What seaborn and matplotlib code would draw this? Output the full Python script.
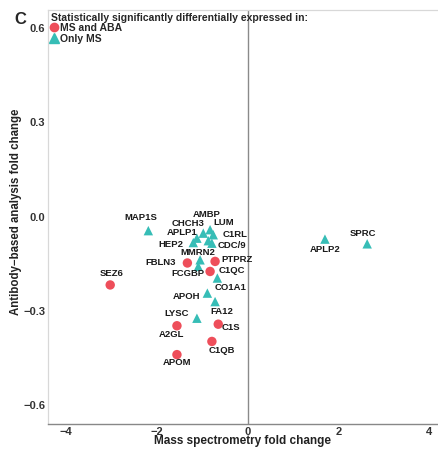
import matplotlib
matplotlib.use("Agg")
import matplotlib.pyplot as plt
import seaborn as sns
import pandas as pd
from matplotlib.lines import Line2D

proteins = ["MAP1S", "AMBP", "CHCH3", "LUM", "APLP1", "C1RL", "HEP2", "CDC/9",
            "MMRN2", "FBLN3", "PTPRZ", "FCGBP", "C1QC", "CO1A1", "APOH", "FA12",
            "LYSC", "A2GL", "C1S", "C1QB", "APOM", "SEZ6", "APLP2", "SPRC"]
ms_fc = [-2.19, -0.83, -0.98, -0.76, -1.12, -0.87, -1.20, -0.79,
         -1.05, -1.33, -0.72, -1.09, -0.83, -0.67, -0.89, -0.72,
         -1.12, -1.56, -0.65, -0.79, -1.56, -3.03, 1.70, 2.63]
aba_fc = [-0.045, -0.042, -0.053, -0.058, -0.069, -0.077, -0.083, -0.085,
          -0.138, -0.148, -0.143, -0.159, -0.175, -0.196, -0.244, -0.271,
          -0.324, -0.348, -0.343, -0.398, -0.440, -0.218, -0.072, -0.087]
groups = ["Only MS", "Only MS", "Only MS", "Only MS", "Only MS", "Only MS", "Only MS", "Only MS",
          "Only MS", "MS and ABA", "MS and ABA", "Only MS", "MS and ABA", "Only MS", "Only MS", "Only MS",
          "Only MS", "MS and ABA", "MS and ABA", "MS and ABA", "MS and ABA", "MS and ABA", "Only MS", "Only MS"]

# label offsets in pixels (dx right, dy up) - layout only
label_offsets = {
    "MAP1S": (-8, 13), "AMBP": (-3, 15), "CHCH3": (-15, 10), "LUM": (10, 12),
    "APLP1": (-15, 6), "C1RL": (27, 6), "HEP2": (-22, -2), "CDC/9": (20, -2),
    "MMRN2": (-2, 7), "FBLN3": (-27, 0), "PTPRZ": (22, 2), "FCGBP": (-10, -7),
    "C1QC": (22, 1), "CO1A1": (13, -9), "APOH": (-21, -3), "FA12": (7, -10),
    "LYSC": (-20, 5), "A2GL": (-5, -9), "C1S": (13, -3), "C1QB": (10, -9),
    "APOM": (0, -8), "SEZ6": (1, 11), "APLP2": (0, -10), "SPRC": (-4, 10),
}

df = pd.DataFrame({"protein": proteins, "ms": ms_fc, "aba": aba_fc, "group": groups})

sns.set_theme(style="white")
plt.rcParams["font.family"] = ["Liberation Sans", "DejaVu Sans"]

RED = "#EE4E5A"
TEAL = "#36BDB6"
palette = {"MS and ABA": RED, "Only MS": TEAL}
markers = {"MS and ABA": "o", "Only MS": "^"}

fig = plt.figure(figsize=(4.38, 4.5), dpi=100)
ax = fig.add_axes([48/438, 26/450, 390/438, 414/450])

ax.axvline(0, color="#8a8a8a", lw=1.0, zorder=1)

sns.scatterplot(data=df, x="ms", y="aba", hue="group", style="group",
                palette=palette, markers=markers, s=46, edgecolor="none",
                ax=ax, legend=False, zorder=3,
                hue_order=["MS and ABA", "Only MS"], style_order=["MS and ABA", "Only MS"])

px2pt = 0.72
for p, x, y in zip(proteins, ms_fc, aba_fc):
    dx, dy = label_offsets[p]
    ax.annotate(p, (x, y), xytext=(dx * px2pt, dy * px2pt), textcoords="offset points",
                ha="center", va="center", fontsize=6.8, fontweight="bold", color="#1a1a1a", zorder=4)

ax.set_xlim(-4.40, 4.19)
ax.set_ylim(-0.661, 0.658)
ax.set_xticks([-4, -2, 0, 2, 4])
ax.set_xticklabels(["\u22124", "\u22122", "0", "2", "4"])
ax.set_yticks([-0.6, -0.3, 0.0, 0.3, 0.6])
ax.set_yticklabels(["\u22120.6", "\u22120.3", "0.0", "0.3", "0.6"])
ax.tick_params(axis="both", labelsize=8, colors="#333333", length=2, width=0.6, pad=0)
ax.tick_params(axis="y", length=0, pad=2)
for lab in ax.get_xticklabels() + ax.get_yticklabels():
    lab.set_fontweight("bold")

for side in ["top", "left"]:
    ax.spines[side].set_color("#d8d8d8")
    ax.spines[side].set_linewidth(0.9)
ax.spines["bottom"].set_color("#888888")
ax.spines["bottom"].set_linewidth(1.0)
ax.spines["right"].set_visible(False)

ax.set_xlabel("Mass spectrometry fold change", fontsize=8.5, fontweight="bold", color="#222222", labelpad=-1)
ax.set_ylabel("Antibody\u2212based analysis fold change", fontsize=8.3, fontweight="bold", color="#222222")
ax.yaxis.set_label_coords(-0.066, 0.512)

handles = [Line2D([], [], marker="o", color=RED, linestyle="none", markersize=6),
           Line2D([], [], marker="^", color=TEAL, linestyle="none", markersize=7)]
leg = ax.legend(handles, ["MS and ABA", "Only MS"], title="Statistically significantly differentially expressed in:",
                loc="upper left", bbox_to_anchor=(0.0, 1.0), frameon=False, fontsize=7.5,
                title_fontsize=7.5, handlelength=0.6, handletextpad=0.3, labelspacing=0.05,
                borderpad=0.15, borderaxespad=0.1)
leg._legend_box.align = "left"
for t in leg.get_texts():
    t.set_fontweight("bold")
leg.get_title().set_fontweight("bold")

fig.text(20/438, 1 - 20/450, "C", fontsize=12, fontweight="bold", ha="center", va="center")

fig.savefig("out.png", dpi=100)
